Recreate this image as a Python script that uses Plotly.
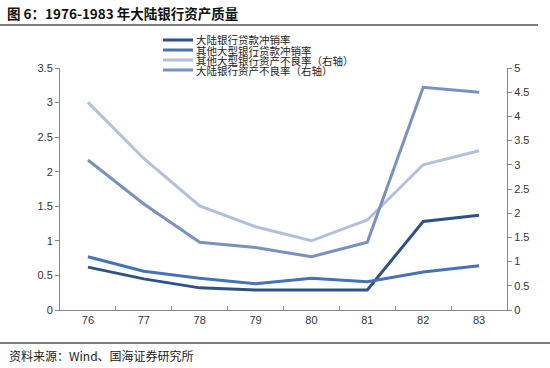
import plotly.graph_objects as go

years = ["76", "77", "78", "79", "80", "81", "82", "83"]
cont_chargeoff = [0.62, 0.45, 0.32, 0.29, 0.29, 0.29, 1.28, 1.37]
other_chargeoff = [0.77, 0.56, 0.46, 0.38, 0.46, 0.41, 0.55, 0.64]
other_npl = [4.29, 3.13, 2.15, 1.72, 1.43, 1.86, 3.00, 3.29]
cont_npl = [3.10, 2.19, 1.40, 1.29, 1.10, 1.40, 4.60, 4.50]

names = ["大陆银行贷款冲销率", "其他大型银行贷款冲销率",
         "其他大型银行资产不良率（右轴）", "大陆银行资产不良率（右轴）"]
colors = ["#2F5189", "#4673B3", "#B3C0DA", "#7891C4"]
left_ticks = [0, 0.5, 1, 1.5, 2, 2.5, 3, 3.5]
right_ticks = [0, 0.5, 1, 1.5, 2, 2.5, 3, 3.5, 4, 4.5, 5]

fig = go.Figure()
series = [(cont_chargeoff, "y"), (other_chargeoff, "y"), (other_npl, "y2"), (cont_npl, "y2")]
for (vals, ax), nm, c in zip(series, names, colors):
    fig.add_trace(go.Scatter(x=years, y=vals, name=nm, yaxis=ax, mode="lines",
                             line=dict(color=c, width=3), showlegend=False))

axis_font = dict(family="Liberation Sans, Arial, sans-serif", size=11, color="#333")
fig.update_layout(
    width=550, height=368,
    margin=dict(l=60, r=43, t=68, b=58),
    paper_bgcolor="white", plot_bgcolor="white",
    xaxis=dict(type="category", tickson="boundaries", ticks="inside", ticklen=4,
               tickcolor="#888", showline=True, linecolor="#888", linewidth=1,
               showgrid=False, tickfont=axis_font, range=[-0.5, 7.5]),
    yaxis=dict(range=[0, 3.5], tickvals=left_ticks, ticktext=[f"{v:g}" for v in left_ticks],
               ticks="outside", ticklen=4, tickcolor="#888", showline=True,
               linecolor="#888", linewidth=1, showgrid=False, zeroline=False,
               tickfont=axis_font),
    yaxis2=dict(range=[0, 5], tickvals=right_ticks, ticktext=[f"{v:g}" for v in right_ticks],
                overlaying="y", side="right", ticks="outside", ticklen=4,
                tickcolor="#888", showline=True, linecolor="#888", linewidth=1,
                showgrid=False, zeroline=False, tickfont=axis_font),
)

pw, ph = 550 - 60 - 43, 368 - 68 - 58
def px(x):
    return (x - 60) / pw
def py(y):
    return (310 - y) / ph

# Title and rules
fig.add_annotation(xref="paper", yref="paper", x=px(5), y=py(13), xanchor="left", yanchor="middle",
                   text="<b>图 6：1976-1983 年大陆银行资产质量</b>", showarrow=False,
                   font=dict(family="Noto Sans CJK SC", size=13.5, color="#111"))
fig.add_shape(type="line", xref="paper", yref="paper", x0=px(0), x1=px(538),
              y0=py(25), y1=py(25), line=dict(color="#555", width=1.5))
fig.add_annotation(xref="paper", yref="paper", x=px(7), y=py(355), text="资料来源：Wind、国海证券研究所",
                   showarrow=False, xanchor="left", yanchor="middle",
                   font=dict(family="Noto Sans CJK SC", size=12, color="#222"))
fig.add_shape(type="line", xref="paper", yref="paper", x0=px(0), x1=px(550),
              y0=py(343), y1=py(343), line=dict(color="#555", width=1.5))

# Manual legend
for i, (nm, c) in enumerate(zip(names, colors)):
    yy = 40 + i * 10
    fig.add_shape(type="line", xref="paper", yref="paper", x0=px(163), x1=px(193),
                  y0=py(yy), y1=py(yy), line=dict(color=c, width=3))
    fig.add_annotation(xref="paper", yref="paper", x=px(194), y=py(yy), text=nm,
                       showarrow=False, xanchor="left", yanchor="middle",
                       font=dict(family="Noto Sans CJK SC", size=10.5, color="#222"))

fig.write_html("out.html", config={"displayModeBar": False},
               post_script="document.body.style.margin='0';")
